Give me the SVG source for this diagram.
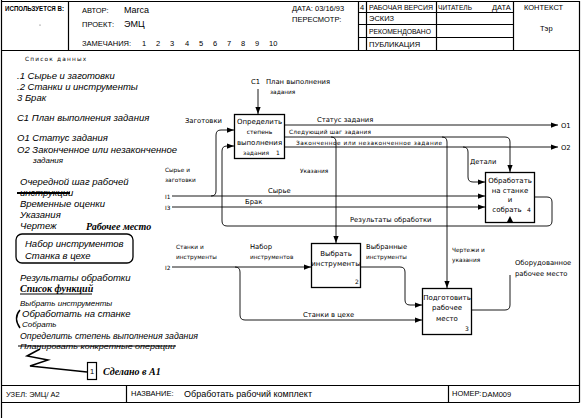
<svg xmlns="http://www.w3.org/2000/svg" width="582" height="418" viewBox="0 0 582 418">
<style>
.hd{font-family:"Liberation Sans",Arial,sans-serif;font-size:7.5px;fill:#000}
.hb{font-family:"Liberation Sans",Arial,sans-serif;font-size:9px;fill:#000}
.lb{font-family:"DejaVu Sans",sans-serif;font-size:6.8px;fill:#000}
.ls{font-family:"DejaVu Sans",sans-serif;font-size:5.8px;fill:#000}
.bt{font-family:"DejaVu Sans",sans-serif;font-size:7px;fill:#000;text-anchor:middle}
.bs{font-family:"DejaVu Sans",sans-serif;font-size:6px;fill:#000;text-anchor:middle}
.hw{font-family:"Liberation Sans",Arial,sans-serif;font-style:italic;font-size:9.5px;fill:#000}
.hws{font-family:"Liberation Sans",Arial,sans-serif;font-style:italic;font-size:8px;fill:#000}
.sc{font-family:"Liberation Serif",serif;font-style:italic;font-weight:bold;font-size:10px;fill:#000}
.fr{fill:none;stroke:#000;stroke-width:1.2}
.ln{fill:none;stroke:#000;stroke-width:0.9}
.box{fill:#fff;stroke:#000;stroke-width:1.3}
</style>
<defs>
<marker id="ah" viewBox="0 0 8 6" refX="8" refY="3" markerWidth="7" markerHeight="5.5" markerUnits="userSpaceOnUse" orient="auto"><path d="M0,0 L8,3 L0,6 z" fill="#000"/></marker>
</defs>
<rect width="582" height="418" fill="#fff"/>
<g id="frame">
<path class="fr" d="M1.5,0 V418 M1.5,1.5 H579.5 V402.5 M1.5,50.5 H579.5 M68.5,1.5 V50.5 M358.5,1.5 V50.5 M366.5,1.5 V50.5 M436.5,1.5 V50.5 M513.5,1.5 V50.5 M358.5,12.5 H513.5 M358.5,24.5 H513.5 M358.5,37.5 H513.5 M1.5,385.5 H579.5 M1.5,402.5 H579.5 M126.5,385.5 V402.5 M448.5,385.5 V402.5"/>
</g>
<g id="header">
<text class="hd" x="5" y="11" font-weight="bold" textLength="59" lengthAdjust="spacingAndGlyphs">ИСПОЛЬЗУЕТСЯ В:</text>
<circle cx="40" cy="25" r="0.6" fill="#555"/>
<text class="hd" x="82" y="13">АВТОР:</text>
<text class="hb" x="124" y="13">Marca</text>
<text class="hd" x="82" y="27">ПРОЕКТ:</text>
<text class="hb" x="124" y="27">ЭМЦ</text>
<text class="hd" x="82" y="46">ЗАМЕЧАНИЯ:</text>
<text class="hd" y="46"><tspan x="142">1</tspan><tspan x="156">2</tspan><tspan x="170">3</tspan><tspan x="185">4</tspan><tspan x="199">5</tspan><tspan x="213">6</tspan><tspan x="227">7</tspan><tspan x="241">8</tspan><tspan x="255">9</tspan><tspan x="269">10</tspan></text>
<text class="hd" x="292" y="11">ДАТА:  03/16/93</text>
<text class="hd" x="292" y="22">ПЕРЕСМОТР:</text>
<text class="hd" x="360" y="10">4</text>
<text class="hd" x="369" y="10" textLength="64" lengthAdjust="spacingAndGlyphs">РАБОЧАЯ ВЕРСИЯ</text>
<text class="hd" x="438" y="10" textLength="34" lengthAdjust="spacingAndGlyphs">ЧИТАТЕЛЬ</text>
<text class="hd" x="492" y="10">ДАТА</text>
<text class="hd" x="369" y="21">ЭСКИЗ</text>
<text class="hd" x="369" y="34" textLength="62" lengthAdjust="spacingAndGlyphs">РЕКОМЕНДОВАНО</text>
<text class="hd" x="369" y="47">ПУБЛИКАЦИЯ</text>
<text class="hd" x="524" y="10">КОНТЕКСТ</text>
<text class="hd" x="540" y="31">Тэр</text>
</g>
<g id="notes">
<text class="ls" x="25" y="61" letter-spacing="1.2">Список данных</text>
<text class="hw" x="17" y="79">.1 Сырье и заготовки</text>
<text class="hw" x="17" y="90">.2 Станки и инструменты</text>
<text class="hw" x="17" y="101">3 Брак</text>
<text class="hw" x="17" y="121">C1 План выполнения задания</text>
<text class="hw" x="17" y="141">O1 Статус задания</text>
<text class="hw" x="17" y="153">O2 Законченное или незаконченное</text>
<text class="hws" x="33" y="163">задания</text>
<text class="hw" x="20" y="185">Очередной шаг рабочей</text>
<text class="hw" x="20" y="196">инструкции</text>
<path d="M17,193 H70" stroke="#000" stroke-width="2"/>
<text class="hw" x="20" y="207">Временные оценки</text>
<text class="hw" x="20" y="218">Указания</text>
<text class="hw" x="20" y="229">Чертеж</text>
<text class="sc" x="86" y="230">Рабочее место</text>
<rect x="16" y="234" width="117" height="29" rx="6" fill="none" stroke="#000" stroke-width="1.3"/>
<text class="hw" x="25" y="247">Набор инструментов</text>
<text class="hw" x="25" y="259">Станка в цехе</text>
<text class="hw" x="20" y="281">Результаты обработки</text>
<text class="sc" x="20" y="292" font-size="9">Список функций</text>
<path d="M20,294 H92" stroke="#000" stroke-width="1"/>
<text class="hws" x="20" y="306">Выбрать инструменты</text>
<text class="hw" x="22" y="317">Обработать на станке</text>
<text class="hws" x="22" y="327">Собрать</text>
<path d="M20,310 Q13,318 20,328" fill="none" stroke="#000" stroke-width="1.5"/>
<text class="hw" x="20" y="339" textLength="178" lengthAdjust="spacingAndGlyphs">Определить степень выполнения задания</text>
<text class="hws" x="20" y="349" textLength="155" lengthAdjust="spacingAndGlyphs">Планировать конкретные операции</text>
<path d="M18,346 H176" stroke="#000" stroke-width="1.2"/>
<path d="M40,349 L27,356 L48,360 L30,366 L87,372" fill="none" stroke="#000" stroke-width="1.5"/>
<rect x="87.5" y="362.5" width="9" height="17" fill="none" stroke="#000" stroke-width="1.2"/>
<text class="hd" x="90" y="374">1</text>
<text class="sc" x="103" y="375">Сделано в А1</text>
</g>
<g id="connectors">
<path class="ln" marker-end="url(#ah)" d="M258,89 V114"/>
<path class="ln" marker-end="url(#ah)" d="M172,196 H485"/>
<path class="ln" marker-end="url(#ah)" d="M211,196 Q216,196 216,191 V135 Q216,130 221,130 H234"/>
<path class="ln" marker-end="url(#ah)" d="M172,207 H485"/>
<path class="ln" marker-end="url(#ah)" d="M172,267 H311"/>
<path class="ln" marker-end="url(#ah)" d="M235,267 Q240,267 240,272 V315 Q240,320 245,320 H422"/>
<path class="ln" marker-end="url(#ah)" d="M361,267 H400 Q405,267 405,272 V300 Q405,305 410,305 H422"/>
<path class="ln" marker-end="url(#ah)" d="M285,125 H558"/>
<path class="ln" marker-end="url(#ah)" d="M285,137 H505 Q510,137 510,142 V172"/>
<path class="ln" marker-end="url(#ah)" d="M331,137 Q336,137 336,142 V243"/>
<path class="ln" marker-end="url(#ah)" d="M442,137 Q447,137 447,142 V288"/>
<path class="ln" marker-end="url(#ah)" d="M285,147 H558"/>
<path class="ln" marker-end="url(#ah)" d="M463,147 Q468,147 468,152 V177 Q468,182 473,182 H485"/>
<path class="ln" marker-end="url(#ah)" d="M535,197 H547 Q552,197 552,202 V221 Q552,226 547,226 H227 Q222,226 222,221 V151 Q222,146 227,146 H234"/>
<path class="ln" d="M472,310 H505 Q510,310 510,305 V275"/>
</g>
<g id="labels">
<text class="lb" x="251" y="84">C1</text>
<text class="lb" x="266" y="84">План выполнения</text>
<text class="ls" x="270" y="94">задания</text>
<text class="lb" x="185" y="123">Заготовки</text>
<text class="lb" x="317" y="122">Статус задания</text>
<text class="ls" x="289" y="134" textLength="82">Следующий шаг задания</text>
<text class="ls" x="296" y="145" textLength="146">Законченное или незаконченное задание</text>
<text class="ls" x="300" y="173">Указания</text>
<text class="lb" x="470" y="164">Детали</text>
<text class="ls" x="165" y="172">Сырье и</text>
<text class="ls" x="165" y="182">заготовки</text>
<text class="ls" x="165" y="199">I1</text>
<text class="ls" x="165" y="210">I3</text>
<text class="ls" x="165" y="270">I2</text>
<text class="lb" x="268" y="193">Сырье</text>
<text class="lb" x="245" y="204">Брак</text>
<text class="lb" x="350" y="222">Результаты обработки</text>
<text class="ls" x="176" y="249">Станки и</text>
<text class="ls" x="176" y="259">инструменты</text>
<text class="lb" x="250" y="249">Набор</text>
<text class="ls" x="250" y="259">инструментов</text>
<text class="lb" x="366" y="249">Выбранные</text>
<text class="ls" x="366" y="259">инструменты</text>
<text class="ls" x="452" y="252">Чертежи и</text>
<text class="ls" x="452" y="262">указания</text>
<text class="lb" x="515" y="265">Оборудованное</text>
<text class="lb" x="515" y="276">рабочее место</text>
<text class="lb" x="303" y="317">Станки в цехе</text>
<text class="lb" x="561" y="128">O1</text>
<text class="lb" x="561" y="150">O2</text>
</g>
<g id="box1">
<rect class="box" x="234.5" y="114.5" width="50" height="44"/>
<text class="bt" x="259.5" y="124">Определить</text>
<text class="bs" x="259.5" y="134">степень</text>
<text class="bt" x="259.5" y="145">выполнения</text>
<text class="bs" x="256" y="155">задания</text>
<text class="bs" x="278" y="155">1</text>
</g>
<g id="box2">
<rect class="box" x="311.5" y="243.5" width="49" height="44"/>
<text class="bt" x="336" y="256">Выбрать</text>
<text class="bt" x="336" y="266">инструменты</text>
<text class="bs" x="357" y="284">2</text>
</g>
<g id="box3">
<rect class="box" x="422.5" y="288.5" width="49" height="46"/>
<text class="bt" x="447" y="300">Подготовить</text>
<text class="bt" x="447" y="310">рабочее</text>
<text class="bt" x="447" y="321">место</text>
<text class="bs" x="467" y="331">3</text>
</g>
<g id="box4">
<rect class="box" x="485.5" y="172.5" width="49" height="50"/>
<text class="bt" x="510" y="183">Обработать</text>
<text class="bt" x="510" y="193">на станке</text>
<text class="bt" x="510" y="202">и</text>
<text class="bt" x="507" y="212">собрать</text>
<text class="bs" x="529" y="212">4</text>
<path d="M507,222 L513,222 L510,216 z" fill="#000"/>
</g>
<g id="footer">
<text class="hd" x="6" y="397">УЗЕЛ: ЭМЦ/ А2</text>
<text class="hd" x="131" y="396">НАЗВАНИЕ:</text>
<text class="hb" x="184" y="397" font-size="8.5">Обработать рабочий комплект</text>
<text class="hd" x="452" y="396" font-size="6.5">НОМЕР:</text>
<text class="hd" x="482" y="397" font-size="6.5">DAM009</text>
</g>
</svg>
